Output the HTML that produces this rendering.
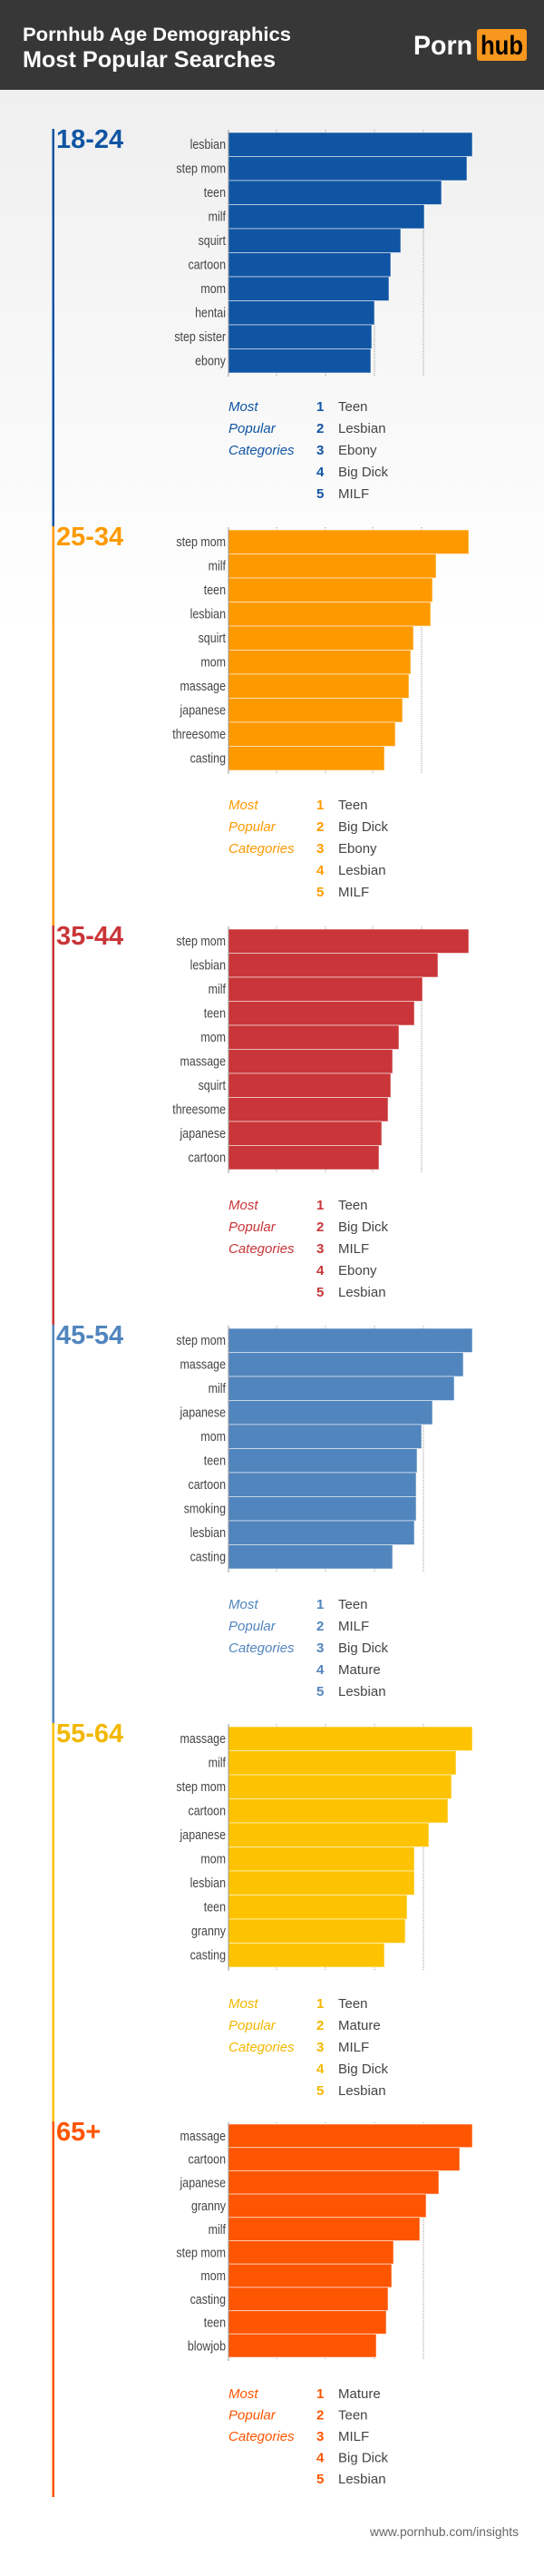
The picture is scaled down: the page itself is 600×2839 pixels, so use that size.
<!DOCTYPE html>
<html><head><meta charset="utf-8"><style>
html,body{margin:0;padding:0;background:#fff}
svg{display:block}
.lb{font-family:"Liberation Sans Narrow","Liberation Sans",sans-serif;font-size:15px;fill:#454545;text-anchor:end}
.ag{font-family:"Liberation Sans",sans-serif;font-weight:bold;font-size:29px}
.mp{font-family:"Liberation Sans",sans-serif;font-style:italic;font-size:15px}
.nu{font-family:"Liberation Sans",sans-serif;font-weight:bold;font-size:15px}
.nm{font-family:"Liberation Sans",sans-serif;font-size:15px;fill:#444}
.gr{stroke:#999;stroke-width:1;stroke-dasharray:1,1}
.bar{stroke:rgba(255,255,255,0.55);stroke-width:1}
</style></head><body>
<svg width="600" height="2839" viewBox="0 0 600 2839" xmlns="http://www.w3.org/2000/svg">
<defs><linearGradient id="bg" x1="0" y1="0" x2="0" y2="1"><stop offset="0" stop-color="#efefef"/><stop offset="1" stop-color="#ffffff"/></linearGradient></defs>
<rect x="0" y="99" width="600" height="600" fill="url(#bg)"/>
<rect x="0" y="0" width="600" height="99" fill="#373737"/>
<text x="25" y="45" fill="#fff" font-family="Liberation Sans,sans-serif" font-weight="bold" font-size="21" textLength="296" lengthAdjust="spacingAndGlyphs">Pornhub Age Demographics</text>
<text x="25" y="74" fill="#fff" font-family="Liberation Sans,sans-serif" font-weight="bold" font-size="25" textLength="279" lengthAdjust="spacingAndGlyphs">Most Popular Searches</text>
<text x="456" y="60" fill="#fff" font-family="Liberation Sans,sans-serif" font-weight="bold" font-size="30" textLength="65" lengthAdjust="spacingAndGlyphs">Porn</text>
<rect x="526" y="32" width="55" height="35" rx="3" fill="#f7971d"/>
<text x="530" y="60" fill="#000" font-family="Liberation Sans,sans-serif" font-weight="bold" font-size="30" textLength="47" lengthAdjust="spacingAndGlyphs">hub</text>

<rect x="57.5" y="142" width="2.5" height="438" fill="#1055a3"/>
<rect x="57.5" y="580" width="2.5" height="440" fill="#fe9a00"/>
<rect x="57.5" y="1020" width="2.5" height="440" fill="#c93538"/>
<rect x="57.5" y="1460" width="2.5" height="439" fill="#5185bd"/>
<rect x="57.5" y="1899" width="2.5" height="439" fill="#fdc300"/>
<rect x="57.5" y="2338" width="2.5" height="414" fill="#fe5500"/>

<!-- S1 -->
<g transform="translate(0,142)">
<text class="ag" x="62" y="21" fill="#1055a3">18-24</text>
<line class="gr" x1="305" y1="1" x2="305" y2="272"/><line class="gr" x1="359" y1="1" x2="359" y2="272"/><line class="gr" x1="413" y1="1" x2="413" y2="272"/><line class="gr" x1="467" y1="1" x2="467" y2="272"/>
<g fill="#1055a3" class="bar">
<rect x="252" y="4" width="269" height="26.5"/><rect x="252" y="30.5" width="263" height="26.5"/><rect x="252" y="57" width="235" height="26.5"/><rect x="252" y="83.5" width="216" height="26.5"/><rect x="252" y="110" width="190" height="26.5"/><rect x="252" y="136.5" width="179" height="26.5"/><rect x="252" y="163" width="177" height="26.5"/><rect x="252" y="189.5" width="161" height="26.5"/><rect x="252" y="216" width="158" height="26.5"/><rect x="252" y="242.5" width="157" height="26.5"/>
</g>
<line x1="252" y1="1" x2="252" y2="273" stroke="#999"/>
<g transform="matrix(0.83,0,0,1,42.33,0)">
<text class="lb" x="249" y="22">lesbian</text><text class="lb" x="249" y="48.5">step mom</text><text class="lb" x="249" y="75">teen</text><text class="lb" x="249" y="101.5">milf</text><text class="lb" x="249" y="128">squirt</text><text class="lb" x="249" y="154.5">cartoon</text><text class="lb" x="249" y="181">mom</text><text class="lb" x="249" y="207.5">hentai</text><text class="lb" x="249" y="234">step sister</text><text class="lb" x="249" y="260.5">ebony</text>
</g>
<g fill="#1055a3"><text class="mp" x="252" y="311">Most</text><text class="mp" x="252" y="335">Popular</text><text class="mp" x="252" y="359">Categories</text>
<text class="nu" x="349" y="311">1</text><text class="nu" x="349" y="335">2</text><text class="nu" x="349" y="359">3</text><text class="nu" x="349" y="383">4</text><text class="nu" x="349" y="407">5</text></g>
<text class="nm" x="373" y="311">Teen</text><text class="nm" x="373" y="335">Lesbian</text><text class="nm" x="373" y="359">Ebony</text><text class="nm" x="373" y="383">Big Dick</text><text class="nm" x="373" y="407">MILF</text>
</g>

<!-- S2 -->
<g transform="translate(0,580)">
<text class="ag" x="62" y="21" fill="#fe9a00">25-34</text>
<line class="gr" x1="305" y1="1" x2="305" y2="272"/><line class="gr" x1="359" y1="1" x2="359" y2="272"/><line class="gr" x1="411" y1="1" x2="411" y2="272"/><line class="gr" x1="465" y1="1" x2="465" y2="272"/>
<g fill="#fe9a00" class="bar">
<rect x="252" y="4" width="265" height="26.5"/><rect x="252" y="30.5" width="229" height="26.5"/><rect x="252" y="57" width="225" height="26.5"/><rect x="252" y="83.5" width="223" height="26.5"/><rect x="252" y="110" width="204" height="26.5"/><rect x="252" y="136.5" width="201" height="26.5"/><rect x="252" y="163" width="199" height="26.5"/><rect x="252" y="189.5" width="192" height="26.5"/><rect x="252" y="216" width="184" height="26.5"/><rect x="252" y="242.5" width="172" height="26.5"/>
</g>
<line x1="252" y1="1" x2="252" y2="273" stroke="#999"/>
<g transform="matrix(0.83,0,0,1,42.33,0)">
<text class="lb" x="249" y="22">step mom</text><text class="lb" x="249" y="48.5">milf</text><text class="lb" x="249" y="75">teen</text><text class="lb" x="249" y="101.5">lesbian</text><text class="lb" x="249" y="128">squirt</text><text class="lb" x="249" y="154.5">mom</text><text class="lb" x="249" y="181">massage</text><text class="lb" x="249" y="207.5">japanese</text><text class="lb" x="249" y="234">threesome</text><text class="lb" x="249" y="260.5">casting</text>
</g>
<g fill="#fe9a00"><text class="mp" x="252" y="312">Most</text><text class="mp" x="252" y="336">Popular</text><text class="mp" x="252" y="360">Categories</text>
<text class="nu" x="349" y="312">1</text><text class="nu" x="349" y="336">2</text><text class="nu" x="349" y="360">3</text><text class="nu" x="349" y="384">4</text><text class="nu" x="349" y="408">5</text></g>
<text class="nm" x="373" y="312">Teen</text><text class="nm" x="373" y="336">Big Dick</text><text class="nm" x="373" y="360">Ebony</text><text class="nm" x="373" y="384">Lesbian</text><text class="nm" x="373" y="408">MILF</text>
</g>

<!-- S3 -->
<g transform="translate(0,1020)">
<text class="ag" x="62" y="21" fill="#c93538">35-44</text>
<line class="gr" x1="305" y1="1" x2="305" y2="272"/><line class="gr" x1="359" y1="1" x2="359" y2="272"/><line class="gr" x1="411" y1="1" x2="411" y2="272"/><line class="gr" x1="465" y1="1" x2="465" y2="272"/>
<g fill="#c93538" class="bar">
<rect x="252" y="4" width="265" height="26.5"/><rect x="252" y="30.5" width="231" height="26.5"/><rect x="252" y="57" width="214" height="26.5"/><rect x="252" y="83.5" width="205" height="26.5"/><rect x="252" y="110" width="188" height="26.5"/><rect x="252" y="136.5" width="181" height="26.5"/><rect x="252" y="163" width="179" height="26.5"/><rect x="252" y="189.5" width="176" height="26.5"/><rect x="252" y="216" width="169" height="26.5"/><rect x="252" y="242.5" width="166" height="26.5"/>
</g>
<line x1="252" y1="1" x2="252" y2="273" stroke="#999"/>
<g transform="matrix(0.83,0,0,1,42.33,0)">
<text class="lb" x="249" y="22">step mom</text><text class="lb" x="249" y="48.5">lesbian</text><text class="lb" x="249" y="75">milf</text><text class="lb" x="249" y="101.5">teen</text><text class="lb" x="249" y="128">mom</text><text class="lb" x="249" y="154.5">massage</text><text class="lb" x="249" y="181">squirt</text><text class="lb" x="249" y="207.5">threesome</text><text class="lb" x="249" y="234">japanese</text><text class="lb" x="249" y="260.5">cartoon</text>
</g>
<g fill="#c93538"><text class="mp" x="252" y="313">Most</text><text class="mp" x="252" y="337">Popular</text><text class="mp" x="252" y="361">Categories</text>
<text class="nu" x="349" y="313">1</text><text class="nu" x="349" y="337">2</text><text class="nu" x="349" y="361">3</text><text class="nu" x="349" y="385">4</text><text class="nu" x="349" y="409">5</text></g>
<text class="nm" x="373" y="313">Teen</text><text class="nm" x="373" y="337">Big Dick</text><text class="nm" x="373" y="361">MILF</text><text class="nm" x="373" y="385">Ebony</text><text class="nm" x="373" y="409">Lesbian</text>
</g>

<!-- S4 -->
<g transform="translate(0,1460)">
<text class="ag" x="62" y="21" fill="#5185bd">45-54</text>
<line class="gr" x1="305" y1="1" x2="305" y2="272"/><line class="gr" x1="359" y1="1" x2="359" y2="272"/><line class="gr" x1="413" y1="1" x2="413" y2="272"/><line class="gr" x1="467" y1="1" x2="467" y2="272"/>
<g fill="#5185bd" class="bar">
<rect x="252" y="4" width="269" height="26.5"/><rect x="252" y="30.5" width="259" height="26.5"/><rect x="252" y="57" width="249" height="26.5"/><rect x="252" y="83.5" width="225" height="26.5"/><rect x="252" y="110" width="213" height="26.5"/><rect x="252" y="136.5" width="208" height="26.5"/><rect x="252" y="163" width="207" height="26.5"/><rect x="252" y="189.5" width="207" height="26.5"/><rect x="252" y="216" width="205" height="26.5"/><rect x="252" y="242.5" width="181" height="26.5"/>
</g>
<line x1="252" y1="1" x2="252" y2="273" stroke="#999"/>
<g transform="matrix(0.83,0,0,1,42.33,0)">
<text class="lb" x="249" y="22">step mom</text><text class="lb" x="249" y="48.5">massage</text><text class="lb" x="249" y="75">milf</text><text class="lb" x="249" y="101.5">japanese</text><text class="lb" x="249" y="128">mom</text><text class="lb" x="249" y="154.5">teen</text><text class="lb" x="249" y="181">cartoon</text><text class="lb" x="249" y="207.5">smoking</text><text class="lb" x="249" y="234">lesbian</text><text class="lb" x="249" y="260.5">casting</text>
</g>
<g fill="#5185bd"><text class="mp" x="252" y="313">Most</text><text class="mp" x="252" y="337">Popular</text><text class="mp" x="252" y="361">Categories</text>
<text class="nu" x="349" y="313">1</text><text class="nu" x="349" y="337">2</text><text class="nu" x="349" y="361">3</text><text class="nu" x="349" y="385">4</text><text class="nu" x="349" y="409">5</text></g>
<text class="nm" x="373" y="313">Teen</text><text class="nm" x="373" y="337">MILF</text><text class="nm" x="373" y="361">Big Dick</text><text class="nm" x="373" y="385">Mature</text><text class="nm" x="373" y="409">Lesbian</text>
</g>

<!-- S5 -->
<g transform="translate(0,1899)">
<text class="ag" x="62" y="21" fill="#f2b800">55-64</text>
<line class="gr" x1="305" y1="1" x2="305" y2="272"/><line class="gr" x1="359" y1="1" x2="359" y2="272"/><line class="gr" x1="413" y1="1" x2="413" y2="272"/><line class="gr" x1="467" y1="1" x2="467" y2="272"/>
<g fill="#fdc300" class="bar">
<rect x="252" y="4" width="269" height="26.5"/><rect x="252" y="30.5" width="251" height="26.5"/><rect x="252" y="57" width="246" height="26.5"/><rect x="252" y="83.5" width="242" height="26.5"/><rect x="252" y="110" width="221" height="26.5"/><rect x="252" y="136.5" width="205" height="26.5"/><rect x="252" y="163" width="205" height="26.5"/><rect x="252" y="189.5" width="197" height="26.5"/><rect x="252" y="216" width="195" height="26.5"/><rect x="252" y="242.5" width="172" height="26.5"/>
</g>
<line x1="252" y1="1" x2="252" y2="273" stroke="#999"/>
<g transform="matrix(0.83,0,0,1,42.33,0)">
<text class="lb" x="249" y="22">massage</text><text class="lb" x="249" y="48.5">milf</text><text class="lb" x="249" y="75">step mom</text><text class="lb" x="249" y="101.5">cartoon</text><text class="lb" x="249" y="128">japanese</text><text class="lb" x="249" y="154.5">mom</text><text class="lb" x="249" y="181">lesbian</text><text class="lb" x="249" y="207.5">teen</text><text class="lb" x="249" y="234">granny</text><text class="lb" x="249" y="260.5">casting</text>
</g>
<g fill="#f2b800"><text class="mp" x="252" y="314">Most</text><text class="mp" x="252" y="338">Popular</text><text class="mp" x="252" y="362">Categories</text>
<text class="nu" x="349" y="314">1</text><text class="nu" x="349" y="338">2</text><text class="nu" x="349" y="362">3</text><text class="nu" x="349" y="386">4</text><text class="nu" x="349" y="410">5</text></g>
<text class="nm" x="373" y="314">Teen</text><text class="nm" x="373" y="338">Mature</text><text class="nm" x="373" y="362">MILF</text><text class="nm" x="373" y="386">Big Dick</text><text class="nm" x="373" y="410">Lesbian</text>
</g>

<!-- S6 -->
<g transform="translate(0,2338)">
<text class="ag" x="62" y="21" fill="#fe5500">65+</text>
<line class="gr" x1="305" y1="1" x2="305" y2="263"/><line class="gr" x1="359" y1="1" x2="359" y2="263"/><line class="gr" x1="413" y1="1" x2="413" y2="263"/><line class="gr" x1="467" y1="1" x2="467" y2="263"/>
<g fill="#fe5500" class="bar">
<rect x="252" y="3" width="269" height="25.7"/><rect x="252" y="28.7" width="255" height="25.7"/><rect x="252" y="54.4" width="232" height="25.7"/><rect x="252" y="80.1" width="218" height="25.7"/><rect x="252" y="105.8" width="211" height="25.7"/><rect x="252" y="131.5" width="182" height="25.7"/><rect x="252" y="157.2" width="180" height="25.7"/><rect x="252" y="182.9" width="176" height="25.7"/><rect x="252" y="208.6" width="174" height="25.7"/><rect x="252" y="234.3" width="163" height="25.7"/>
</g>
<line x1="252" y1="1" x2="252" y2="264" stroke="#999"/>
<g transform="matrix(0.83,0,0,1,42.33,0)">
<text class="lb" x="249" y="21">massage</text><text class="lb" x="249" y="46.7">cartoon</text><text class="lb" x="249" y="72.4">japanese</text><text class="lb" x="249" y="98.1">granny</text><text class="lb" x="249" y="123.8">milf</text><text class="lb" x="249" y="149.5">step mom</text><text class="lb" x="249" y="175.2">mom</text><text class="lb" x="249" y="200.9">casting</text><text class="lb" x="249" y="226.6">teen</text><text class="lb" x="249" y="252.3">blowjob</text>
</g>
<g fill="#fe5500"><text class="mp" x="252" y="305">Most</text><text class="mp" x="252" y="328.5">Popular</text><text class="mp" x="252" y="352">Categories</text>
<text class="nu" x="349" y="305">1</text><text class="nu" x="349" y="328.5">2</text><text class="nu" x="349" y="352">3</text><text class="nu" x="349" y="375.5">4</text><text class="nu" x="349" y="399">5</text></g>
<text class="nm" x="373" y="305">Mature</text><text class="nm" x="373" y="328.5">Teen</text><text class="nm" x="373" y="352">MILF</text><text class="nm" x="373" y="375.5">Big Dick</text><text class="nm" x="373" y="399">Lesbian</text>
</g>

<text x="408" y="2795" fill="#666" font-family="Liberation Sans Narrow,Liberation Sans,sans-serif" font-size="14" textLength="164" lengthAdjust="spacingAndGlyphs">www.pornhub.com/insights</text>
</svg>
</body></html>
